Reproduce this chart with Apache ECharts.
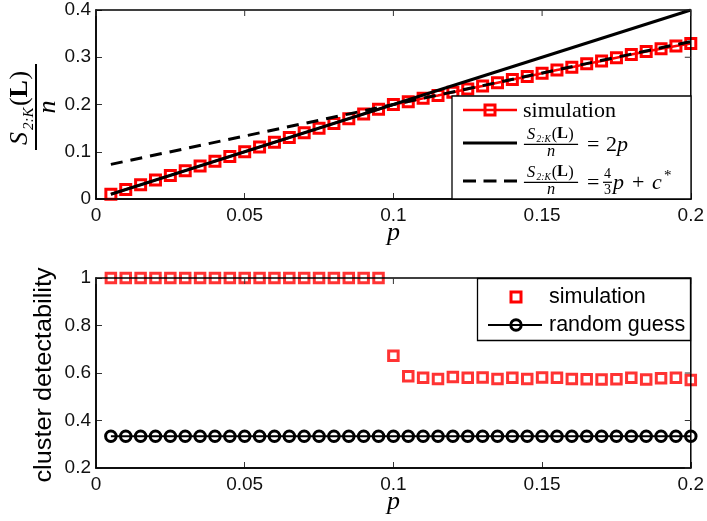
<!DOCTYPE html>
<html>
<head>
<meta charset="utf-8">
<script src="https://cdn.jsdelivr.net/npm/echarts@6/dist/echarts.min.js"></script>
<style>
html,body{margin:0;padding:0;background:#fff;}
#c{width:707px;height:521px;}
</style>
</head>
<body>
<div id="c"></div>
<script>
// ---- data ----
var pValues = [0.005,0.010,0.015,0.020,0.025,0.030,0.035,0.040,0.045,0.050,
               0.055,0.060,0.065,0.070,0.075,0.080,0.085,0.090,0.095,0.100,
               0.105,0.110,0.115,0.120,0.125,0.130,0.135,0.140,0.145,0.150,
               0.155,0.160,0.165,0.170,0.175,0.180,0.185,0.190,0.195,0.200];
var simTop = [0.010,0.020,0.030,0.040,0.050,0.060,0.070,0.080,0.090,0.100,
              0.110,0.120,0.130,0.140,0.150,0.160,0.170,0.180,0.190,0.200,
              0.206,0.213,0.219,0.226,0.233,0.239,0.246,0.253,0.259,0.266,
              0.273,0.279,0.286,0.292,0.299,0.306,0.312,0.318,0.324,0.329];
var lineTwoP = [[0.005,0.010],[0.200,0.400]];
var lineFourThirds = [[0.005,0.0733],[0.200,0.3333]];
var detect = [1,1,1,1,1,1,1,1,1,1,
              1,1,1,1,1,1,1,1,1,0.673,
              0.586,0.580,0.575,0.583,0.580,0.581,0.575,0.580,0.575,0.581,
              0.580,0.575,0.574,0.573,0.574,0.580,0.573,0.578,0.580,0.571];
var randomGuess = [0.3333,0.3333,0.3333,0.3333,0.3333,0.3333,0.3333,0.3333,0.3333,0.3333,
                   0.3333,0.3333,0.3333,0.3333,0.3333,0.3333,0.3333,0.3333,0.3333,0.3333,
                   0.3333,0.3333,0.3333,0.3333,0.3333,0.3333,0.3333,0.3333,0.3333,0.3333,
                   0.3333,0.3333,0.3333,0.3333,0.3333,0.3333,0.3333,0.3333,0.3333,0.3333];
var xTickValues = [0, 0.05, 0.1, 0.15, 0.2];
var yTopTickValues = [0, 0.1, 0.2, 0.3, 0.4];
var yBotTickValues = [0.2, 0.4, 0.6, 0.8, 1];
var xTicks = {min:0, max:0.2, interval:0.05};
var yTopTicks = {min:0, max:0.4, interval:0.1};
var yBotTicks = {min:0.2, max:1, interval:0.2};

function pairs(xs, ys){ return xs.map(function(x,i){return [x, ys[i]];}); }

var SANS = '"Liberation Sans", Arial, Helvetica, sans-serif';
var SERIF = '"Liberation Serif", "Times New Roman", serif';

function xAx(grid, name){
  return {
    type:'value', gridIndex:grid, position:'bottom', min:xTicks.min, max:xTicks.max, interval:xTicks.interval,
    axisLine:{show:true, onZero:false, lineStyle:{color:'#000', width:1.5}},
    axisTick:{show:true, inside:true, length:6, lineStyle:{color:'#333', width:1}},
    splitLine:{show:false},
    axisLabel:{show:true, fontSize:19, fontFamily:SANS, color:'#111', margin:7},
    name: name, nameLocation:'middle', nameGap:34, nameMoveOverlap:false,
    nameTextStyle:{fontFamily:SERIF, fontStyle:'italic', fontSize:26, color:'#000', verticalAlign:'middle'}
  };
}
function yAx(grid, t){
  return {
    type:'value', gridIndex:grid, position:'left', min:t.min, max:t.max, interval:t.interval,
    axisLine:{show:true, onZero:false, lineStyle:{color:'#000', width:1.5}},
    axisTick:{show:true, inside:true, length:6, lineStyle:{color:'#333', width:1}},
    splitLine:{show:false},
    axisLabel:{show:true, fontSize:19, fontFamily:SANS, color:'#111', margin:5}
  };
}

function frac(x, y, s, rot){
  function tx(lx, ly, text, font, align){
    return {type:'text', x:lx, y:ly, z:102, style:{text:text, font:font, fill:'#000', align:align||'left', verticalAlign:'middle'}};
  }
  return {
    type:'group', x:x, y:y, scaleX:s, scaleY:s, rotation:rot||0, z:102,
    children:[
      tx(-38, -16, 'S', 'italic 26px '+SERIF),
      tx(-23, -7, '2:K', 'italic 15px '+SERIF),
      tx(1, -16, '(', '26px '+SERIF),
      tx(9.5, -16, 'L', 'bold 26px '+SERIF),
      tx(27.5, -16, ')', '26px '+SERIF),
      {type:'line', z:102, shape:{x1:-43, y1:0, x2:43, y2:0}, style:{stroke:'#000', lineWidth:2}},
      tx(0, 12, 'n', 'italic 26px '+SERIF, 'center')
    ]
  };
}
function t(x, y, text, font, extra){
  var st = {text:text, font:font, fill:'#000', align:'left', verticalAlign:'middle'};
  if (extra) for (var k in extra) st[k] = extra[k];
  return {type:'text', x:x, y:y, z:102, style:st};
}

var graphics = [
  frac(36, 107, 1, Math.PI/2),
  {type:'text', x:45, y:375, rotation:Math.PI/2, scaleX:1.1, scaleY:1, z:100,
   style:{text:'cluster detectability', font:'23px '+SANS, fill:'#000', align:'center', verticalAlign:'middle'}},
  {type:'rect', z:99, shape:{x:452, y:96, width:239, height:103}, style:{fill:'#fff', stroke:'#000', lineWidth:1.3}},
  {type:'line', z:100, shape:{x1:463, y1:110, x2:517, y2:110}, style:{stroke:'#f00', lineWidth:2.5}},
  {type:'rect', z:101, shape:{x:485, y:105, width:10, height:10}, style:{fill:'none', stroke:'#f00', lineWidth:3}},
  t(523, 111, 'simulation', '22px '+SERIF),
  {type:'line', z:100, shape:{x1:463, y1:143, x2:517, y2:143}, style:{stroke:'#000', lineWidth:3}},
  frac(551, 144.3, 0.63, 0),
  t(587, 145.5, '=', '22px '+SERIF),
  t(606, 145.5, '2', '22px '+SERIF),
  t(617, 145.5, 'p', 'italic 22px '+SERIF),
  {type:'line', z:100, shape:{x1:463, y1:181, x2:517, y2:181}, style:{stroke:'#000', lineWidth:3, lineDash:[13,7.5]}},
  frac(551, 182.3, 0.63, 0),
  t(587, 183.5, '=', '22px '+SERIF),
  t(607.5, 174.5, '4', '14px '+SERIF, {align:'center'}),
  {type:'line', z:101, shape:{x1:603, y1:182.3, x2:612, y2:182.3}, style:{stroke:'#000', lineWidth:1.2}},
  t(607.5, 190.5, '3', '14px '+SERIF, {align:'center'}),
  t(613, 183.5, 'p', 'italic 22px '+SERIF),
  t(632, 183.5, '+', '22px '+SERIF),
  t(652, 183.5, 'c', 'italic 22px '+SERIF),
  t(664, 176, '*', '15px '+SERIF),
  {type:'rect', z:99, shape:{x:477.5, y:278.5, width:213, height:62}, style:{fill:'#fff', stroke:'#000', lineWidth:1.3}},
  {type:'rect', z:101, shape:{x:511, y:292, width:10, height:10}, style:{fill:'none', stroke:'#f00', lineWidth:3}},
  t(549, 297, 'simulation', '21.5px '+SANS),
  {type:'line', z:100, shape:{x1:488, y1:325, x2:542, y2:325}, style:{stroke:'#000', lineWidth:2.2}},
  {type:'circle', z:101, shape:{cx:516, cy:325, r:5.2}, style:{fill:'none', stroke:'#000', lineWidth:3}},
  t(549, 325, 'random guess', '21.5px '+SANS)
];

var chart = echarts.init(document.getElementById('c'), null, {renderer:'canvas'});
chart.setOption({
  animation:false,
  backgroundColor:'#fff',
  grid:[
    {left:96, top:10, width:596, height:189, containLabel:false},
    {left:96, top:278, width:596, height:190, containLabel:false}
  ],
  xAxis:[ xAx(0,'p'), xAx(1,'p') ],
  yAxis:[ yAx(0,yTopTicks), yAx(1,yBotTicks) ],
  series:[
    {type:'line', xAxisIndex:0, yAxisIndex:0, data:pairs(pValues, simTop), clip:false, z:2,
     symbol:'rect', symbolSize:10, showAllSymbol:true,
     itemStyle:{color:'rgba(255,255,255,0)', borderColor:'#f00', borderWidth:3},
     lineStyle:{color:'#f00', width:2.5}},
    {type:'line', xAxisIndex:0, yAxisIndex:0, data:lineTwoP, symbol:'none', z:3,
     lineStyle:{color:'#000', width:3}},
    {type:'line', xAxisIndex:0, yAxisIndex:0, data:lineFourThirds, symbol:'none', z:3,
     lineStyle:{color:'#000', width:3, type:[12,8]}},
    {type:'scatter', xAxisIndex:1, yAxisIndex:1, data:pairs(pValues, detect), clip:false, z:3,
     symbol:'rect', symbolSize:9.5,
     itemStyle:{color:'rgba(255,255,255,0)', borderColor:'#f00', borderWidth:3}},
    {type:'line', xAxisIndex:1, yAxisIndex:1, data:pairs(pValues, randomGuess), clip:false, z:2,
     symbol:'circle', symbolSize:10.5, showAllSymbol:true,
     itemStyle:{color:'rgba(255,255,255,0)', borderColor:'#000', borderWidth:3},
     lineStyle:{color:'#000', width:2}}
  ]
});

// top and right frame edges with inside ticks, placed through the library's scales
function toPx(seriesIdx, pt){ return chart.convertToPixel({seriesIndex:seriesIdx}, pt); }
function frame(sIdx, yTicksArr, xMin, xMax, yMin, yMax){
  var tl = toPx(sIdx, [xMin, yMax]);
  var br = toPx(sIdx, [xMax, yMin]);
  var els = [];
  if (!tl || !br) return els;
  els.push({type:'rect', z:50, shape:{x:tl[0], y:tl[1], width:br[0]-tl[0], height:br[1]-tl[1]}, style:{stroke:'#000', lineWidth:1.5, fill:'rgba(0,0,0,0)'}});
  xTickValues.forEach(function(v){
    var px = toPx(sIdx, [v, yMax]);
    els.push({type:'line', z:50, shape:{x1:px[0], y1:tl[1], x2:px[0], y2:tl[1]+6}, style:{stroke:'#333', lineWidth:1}});
  });
  yTicksArr.forEach(function(v){
    var px = toPx(sIdx, [xMax, v]);
    els.push({type:'line', z:50, shape:{x1:br[0], y1:px[1], x2:br[0]-6, y2:px[1]}, style:{stroke:'#333', lineWidth:1}});
  });
  return els;
}
var frames = frame(0, yTopTickValues, xTicks.min, xTicks.max, yTopTicks.min, yTopTicks.max)
     .concat(frame(3, yBotTickValues, xTicks.min, xTicks.max, yBotTicks.min, yBotTicks.max));
chart.setOption({graphic: graphics.concat(frames)});
</script>
</body>
</html>
